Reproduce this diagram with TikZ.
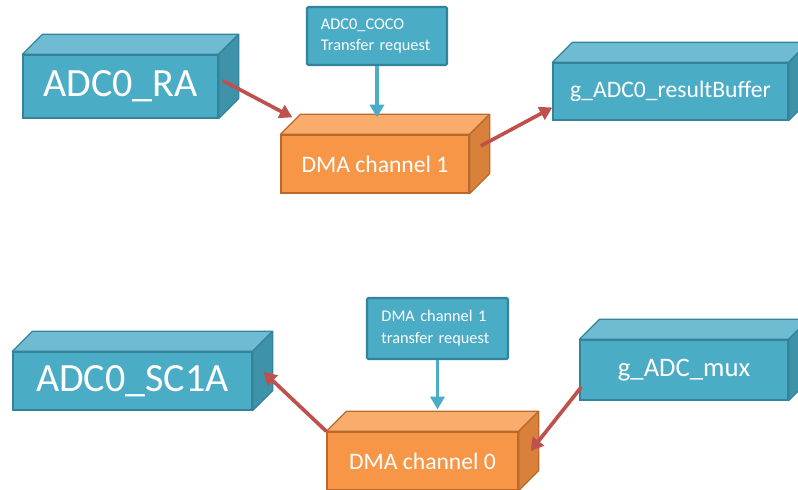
\documentclass[tikz,border=0pt]{standalone}
\usepackage{fontspec}
\setmainfont{Carlito}
\usetikzlibrary{arrows.meta}

\definecolor{cyFront}{HTML}{4BACC6}
\definecolor{cyTop}{HTML}{6FBCD2}
\definecolor{cySide}{HTML}{3E92AA}
\definecolor{cyEdge}{HTML}{33839A}
\definecolor{orFront}{HTML}{F79646}
\definecolor{orTop}{HTML}{F9AC6C}
\definecolor{orSide}{HTML}{D9803A}
\definecolor{orEdge}{HTML}{B8692C}
\definecolor{redArr}{HTML}{C0504D}

\begin{document}
\begin{tikzpicture}[x=0.025cm, y=-0.025cm,
      boxnode/.style={draw, line width=0.9pt, inner sep=0pt, text=white},
      cynode/.style={boxnode, draw=cyEdge, fill=cyFront},
      ornode/.style={boxnode, draw=orEdge, fill=orFront, font=\fontsize{16.8}{18}\selectfont},
      reqnode/.style={draw=cyEdge, line width=1.5pt, fill=cyFront, rounded corners=1pt, text=white,
                      align=left, inner sep=0pt, text width=2.8cm, font=\fontsize{11.6}{15.5}\selectfont},
      bigtext/.style={font=\fontsize{28.5}{30}\selectfont},
      midtext/.style={font=\fontsize{16.8}{18}\selectfont},
      redarr/.style={draw=redArr, line width=2.6pt, -{Triangle[length=9pt,width=10pt]}},
      bluearr/.style={draw=cyFront, line width=2.6pt, -{Triangle[length=9pt,width=10pt]}}]
    \path[use as bounding box, clip] (0,0) rectangle (798,490);

    % upper chain
    \node[cynode, bigtext, minimum width=4.875cm, minimum height=1.575cm] (ra) at (120.5,86.5) {ADC0\_RA};
    \node[reqnode, minimum width=3.5cm, minimum height=1.45cm] (coco) at (377,36) {ADC0\_COCO\\Transfer request};
    \node[ornode, minimum width=4.7cm, minimum height=1.45cm] (dma1) at (375,164) {DMA channel 1};
    \node[cynode, midtext, minimum width=5.875cm, minimum height=1.425cm] (buf) at (670.5,91.5) {g\_ADC0\_resultBuffer};

    % lower chain
    \node[cynode, bigtext, minimum width=5.975cm, minimum height=1.45cm] (sc1a) at (132.5,381) {ADC0\_SC1A};
    \node[reqnode, minimum width=3.525cm, minimum height=1.525cm] (req1) at (437.5,328.5) {DMA channel 1\\transfer request};
    \node[ornode, minimum width=4.775cm, minimum height=1.45cm] (dma0) at (422.5,461) {DMA channel 0};
    \node[cynode, font=\fontsize{19}{21}\selectfont, minimum width=5.2cm, minimum height=1.5cm] (mux) at (684,370) {g\_ADC\_mux};

    % top and side faces
    \foreach \n/\c in {ra/cy, buf/cy, sc1a/cy, mux/cy, dma1/or, dma0/or} {
      \filldraw[draw=\c Edge, fill=\c Top, line width=0.9pt, line join=round]
        (\n.north west) -- ++(20,-20) -- ([shift={(20,-20)}]\n.north east) -- (\n.north east) -- cycle;
      \filldraw[draw=\c Edge, fill=\c Side, line width=0.9pt, line join=round]
        (\n.north east) -- ++(20,-20) -- ([shift={(20,-20)}]\n.south east) -- (\n.south east) -- cycle;
    }

    \draw[redarr] ([shift={(4,-6)}]ra.east) -- ([shift={(12,-17)}]dma1.north west);
    \draw[bluearr] (coco.south) -- ([shift={(2,-17)}]dma1.north);
    \draw[redarr] ([shift={(11,-18)}]dma1.east) -- ([shift={(0,16)}]buf.west);

    \draw[bluearr] (req1.south) -- ([shift={(15,-22)}]dma0.north);
    \draw[redarr] ([shift={(2,17)}]mux.west) -- ([shift={(12,-10)}]dma0.east);
    \draw[redarr] (dma0.north west) -- ([shift={(11,-9)}]sc1a.east);
  \end{tikzpicture}
\end{document}
